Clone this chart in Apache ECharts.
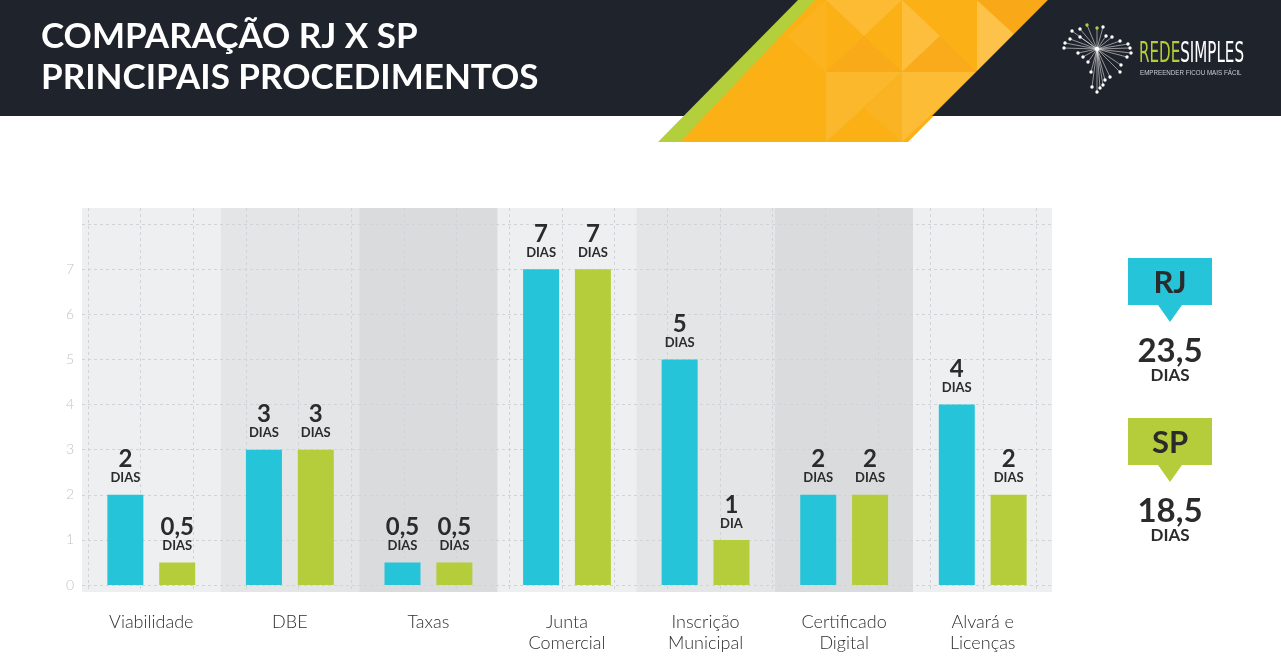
<!DOCTYPE html>
<html>
<head>
<meta charset="utf-8">
<script src="https://cdn.jsdelivr.net/npm/echarts@6.0.0/dist/echarts.min.js"></script>
<style>
html,body{margin:0;padding:0;background:#fff;}
#chart{width:1281px;height:672px;}
</style>
</head>
<body>
<div id="chart"></div>
<script>
// ---- data ----
const categories = ['Viabilidade', 'DBE', 'Taxas', 'Junta\nComercial', 'Inscrição\nMunicipal', 'Certificado\nDigital', 'Alvará e\nLicenças'];
const rjValues = [2, 3, 0.5, 7, 5, 2, 4];
const spValues = [0.5, 3, 0.5, 7, 1, 2, 2];
const regions = ['RJ', 'SP'];
const totals = [23.5, 18.5];
const yTicks = [0, 1, 2, 3, 4, 5, 6, 7];

const CYAN = '#26c4d9', GREEN = '#b5cc3b', DARK = '#2b2b2b', HEAD = '#1f232b';
const FONT = 'Lato, "Open Sans", sans-serif';
const fmt = v => String(v).replace('.', ',');

const chart = echarts.init(document.getElementById('chart'), null, {renderer: 'canvas'});

// ---- decorative graphics ----
const graphics = [];
graphics.push({type: 'rect', shape: {x: 0, y: 0, width: 1281, height: 116}, style: {fill: HEAD}, z: -10});
// parallelogram
graphics.push({type: 'polygon', shape: {points: [[798,0],[818,0],[682,142],[658,142]]}, style: {fill: '#b3cf3c'}, z: -9});
graphics.push({type: 'polygon', shape: {points: [[815,0],[1048,0],[908,142],[680,142]]}, style: {fill: '#fbb116'}, z: -9});
const facets = [
  [[[826,0],[902,0],[864,36]], '#fcbb33'],
  [[[864,36],[826,72],[902,72]], '#f9aa18'],
  [[[902,0],[940,36],[902,72]], '#fcbe3c'],
  [[[940,36],[977,72],[902,72]], '#f9ab1b'],
  [[[977,0],[1014,34],[977,72]], '#fdc24a'],
  [[[977,0],[1048,0],[1014,34]], '#f9a818'],
  [[[826,72],[902,72],[826,142]], '#fcb82c'],
  [[[902,72],[977,72],[902,142]], '#fcbc36'],
  [[[864,108],[902,72],[902,142]], '#fab322'],
  [[[788,36],[826,0],[826,72]], '#fbb420']
];
facets.forEach(f => graphics.push({type: 'polygon', shape: {points: f[0]}, style: {fill: f[1]}, z: -8}));
// dark header to the right of the parallelogram
graphics.push({type: 'polygon', shape: {points: [[1048,0],[1281,0],[1281,116],[932,116]]}, style: {fill: HEAD}, z: -7});

// title
graphics.push({type: 'text', left: 41, top: 19, style: {text: 'COMPARAÇÃO RJ X SP', fill: '#fff', font: 'bold 35px ' + FONT}, z: 5});
graphics.push({type: 'text', left: 41, top: 60, style: {text: 'PRINCIPAIS PROCEDIMENTOS', fill: '#fff', font: 'bold 35px ' + FONT}, z: 5});

// logo burst
const cx = 1097, cy = 49;
const dots = [[1072,31],[1080,29],[1087,25],[1097,28],[1103,27],[1106,36],[1112,37],[1120,41],[1128,44],[1130,48],[1131,53],[1127,57],[1121,65],[1120,72],[1110,77],[1105,80],[1103,85],[1100,88],[1097,92],[1092,87],[1091,72],[1088,62],[1083,57],[1078,53],[1065,43],[1064,48],[1070,39],[1080,37]];
dots.forEach((d, i) => {
  graphics.push({type: 'line', shape: {x1: cx, y1: cy, x2: d[0], y2: d[1]}, style: {stroke: 'rgba(255,255,255,0.75)', lineWidth: 0.7}, z: 5});
  graphics.push({type: 'circle', shape: {cx: d[0], cy: d[1], r: 1.7}, style: {fill: (i === 2 || i === 3) ? GREEN : '#fff'}, z: 6});
});
graphics.push({type: 'circle', shape: {cx: cx, cy: cy, r: 2.2}, style: {fill: '#fff'}, z: 6});
graphics.push({
  type: 'text', x: 1139, y: 41, scaleX: 0.6,
  style: {text: '{g|REDE}{w|SIMPLES}', rich: {g: {fill: GREEN, font: '28px "Liberation Sans Narrow", "DejaVu Sans Condensed", sans-serif'}, w: {fill: '#fff', font: '28px "Liberation Sans Narrow", "DejaVu Sans Condensed", sans-serif'}}},
  z: 6
});
graphics.push({type: 'text', x: 1140, y: 69, scaleX: 0.78, style: {text: 'EMPREENDER FICOU MAIS FÁCIL', fill: '#c9ccd1', font: '8px "Liberation Sans Narrow", sans-serif'}, z: 6});

// right summary panels
const panelColors = [CYAN, GREEN];
regions.forEach((r, i) => {
  const top = 258 + i * 160;
  graphics.push({type: 'polygon', shape: {points: [[1128,top],[1212,top],[1212,top+47],[1182,top+47],[1170,top+64],[1158,top+47],[1128,top+47]]}, style: {fill: panelColors[i]}, z: 5});
  graphics.push({type: 'text', x: 1170, y: top + 25, style: {text: r, fill: DARK, font: 'bold 31px ' + FONT, align: 'center', verticalAlign: 'middle'}, z: 6});
  graphics.push({type: 'text', x: 1170, y: top + 93, style: {text: fmt(totals[i]), fill: DARK, font: 'bold 33px ' + FONT, align: 'center', verticalAlign: 'middle'}, z: 6});
  graphics.push({type: 'text', x: 1170, y: top + 118, style: {text: 'DIAS', fill: DARK, font: 'bold 17px ' + FONT, align: 'center', verticalAlign: 'middle'}, z: 6});
});

const labelFormatter = p => `{n|${fmt(p.value)}}\n{d|${p.value === 1 ? 'DIA' : 'DIAS'}}`;
const labelRich = {
  n: {fontSize: 24, fontWeight: 'bold', color: DARK, lineHeight: 22, fontFamily: FONT},
  d: {fontSize: 13, fontWeight: 'bold', color: DARK, lineHeight: 15, fontFamily: FONT}
};

const option = {
  animation: false,
  backgroundColor: '#ffffff',
  graphic: graphics,
  grid: [
    {left: 82, right: 229, top: 224, bottom: 87},   // main
    {left: 82, right: 229, top: 208, bottom: 80},   // bands
    {left: 88, width: 948, top: 208, bottom: 80}    // vertical dashed lines
  ],
  xAxis: [
    {
      gridIndex: 0, type: 'category', data: categories,
      axisLine: {show: false}, axisTick: {show: false},
      axisLabel: {margin: 27, color: '#2e2e2e', fontSize: 18, fontWeight: 300, fontFamily: FONT, lineHeight: 21, interval: 0}
    },
    {
      gridIndex: 1, type: 'category', data: categories, z: -2,
      axisLine: {show: false}, axisTick: {show: false}, axisLabel: {show: false},
      splitArea: {show: true, interval: 0, areaStyle: {color: ['#eeeff1', '#e4e5e7', '#dadbdd']}}
    },
    {
      gridIndex: 2, type: 'value', min: 0, max: 18, interval: 1, z: -1,
      axisLine: {show: false}, axisTick: {show: false}, axisLabel: {show: false},
      splitLine: {show: true, lineStyle: {color: '#d2d3d6', type: [3, 3], width: 1}}
    }
  ],
  yAxis: [
    {
      gridIndex: 0, type: 'value', min: 0, max: 8, interval: 1,
      axisLine: {show: false}, axisTick: {show: false},
      axisLabel: {margin: 8, color: '#c3c3c5', fontSize: 14, fontWeight: 300, fontFamily: FONT,
        formatter: v => yTicks.includes(v) ? String(v) : ''},
      splitLine: {show: true, lineStyle: {color: '#d2d3d6', type: [3, 3], width: 1}}
    },
    {gridIndex: 1, type: 'value', show: false, splitLine: {show: false}},
    {gridIndex: 2, type: 'value', show: false, splitLine: {show: false}}
  ],
  series: [
    {
      name: regions[0], type: 'bar', xAxisIndex: 0, yAxisIndex: 0, data: rjValues,
      barWidth: 36, barGap: '44%', itemStyle: {color: CYAN},
      label: {show: true, position: 'top', distance: 9, formatter: labelFormatter, rich: labelRich, align: 'center'}
    },
    {
      name: regions[1], type: 'bar', xAxisIndex: 0, yAxisIndex: 0, data: spValues,
      barWidth: 36, barGap: '44%', itemStyle: {color: GREEN},
      label: {show: true, position: 'top', distance: 9, formatter: labelFormatter, rich: labelRich, align: 'center'}
    }
  ]
};
chart.setOption(option);
</script>
</body>
</html>
